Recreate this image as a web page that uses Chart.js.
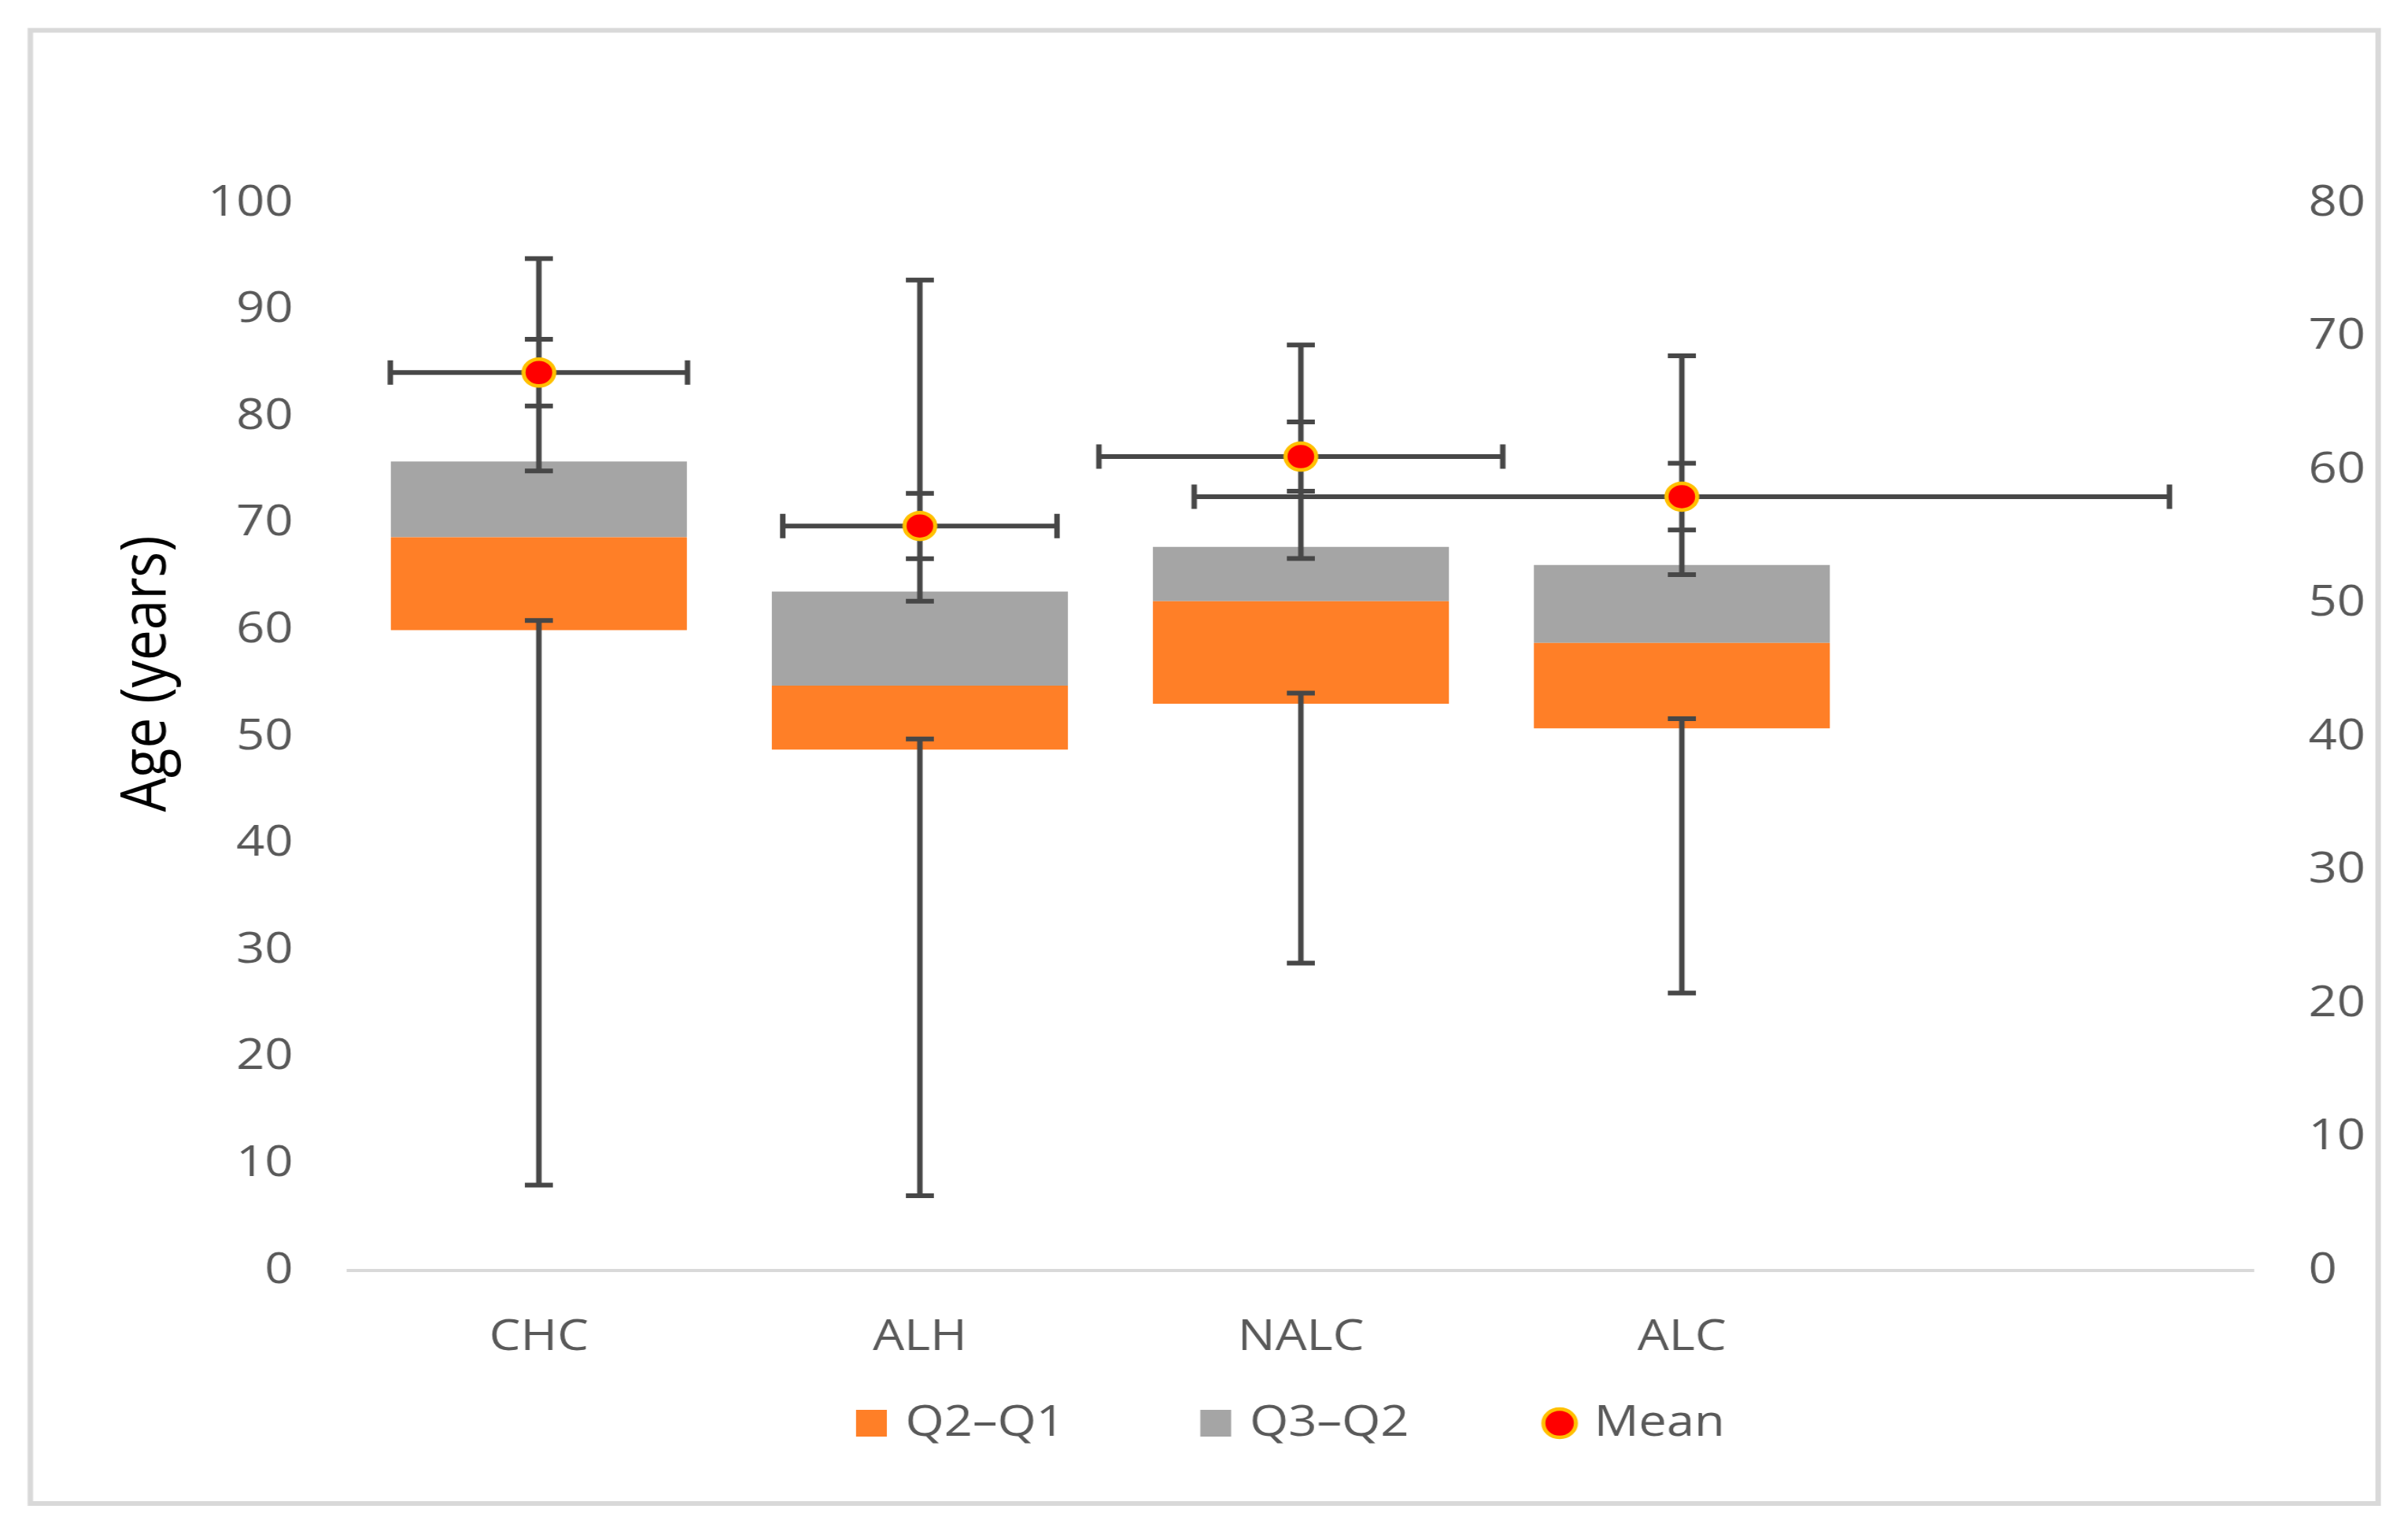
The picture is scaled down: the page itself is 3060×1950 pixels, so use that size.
<!DOCTYPE html>
<html>
<head>
<meta charset="utf-8">
<script src="https://cdn.jsdelivr.net/npm/chart.js@4.4.1/dist/chart.umd.min.js"></script>
<style>
html,body{margin:0;padding:0;background:#fff;overflow:hidden;width:3060px;height:1950px;}
#wrap{position:absolute;left:0;top:0;width:2661px;height:1950px;transform:scaleX(1.14995);transform-origin:0 0;}
canvas{display:block;}
</style>
</head>
<body>
<div id="wrap"><canvas id="c" width="2661" height="1950"></canvas></div>
<script>
// ---- data ----
const categories = ['CHC', 'ALH', 'NALC', 'ALC', ''];
const q1 = [60.0, 48.8, 53.1, 50.8];
const q2 = [68.7, 54.8, 62.7, 58.8];
const q3 = [75.8, 63.6, 67.8, 66.1];
const whiskerMin = [8.0, 7.0, 28.8, 26.0];
const whiskerMinCap = [60.9, 49.8, 54.1, 51.7];
const whiskerMaxStart = [74.9, 62.7, 66.7, 65.2];
const whiskerMax = [94.8, 92.8, 86.7, 85.7];
const meanAge = [67.3, 55.8, 61.0, 58.0];      // secondary (right) axis
const meanErrY = [2.5, 2.45, 2.6, 2.5];        // secondary axis units
const meanErrX = [0.39, 0.36, 0.53, 1.28];     // category units
const leftTicks = [0, 10, 20, 30, 40, 50, 60, 70, 80, 90, 100];
const rightTicks = [0, 10, 20, 30, 40, 50, 60, 70, 80];

const ORANGE = '#FF7F27';
const GRAY = '#A5A5A5';
const LINE = '#474747';
const TXT = '#595959';

// ---- legend icons (transparent lead-in gives the item spacing) ----
const ICON_W = 157;          // legend box width (pointStyleWidth)
const IMG_W = ICON_W + 40;   // image is centred on the box, 20px overhang each side
function makeIcon(kind, color) {
  const cv = document.createElement('canvas');
  cv.width = IMG_W; cv.height = 44;
  const g = cv.getContext('2d');
  if (kind === 'rect') {
    g.fillStyle = color;
    g.fillRect(20 + 130, 5, 34, 34);
  } else {
    g.beginPath(); g.arc(20 + 146.5, 22, 18, 0, Math.PI * 2);
    g.fillStyle = '#FF0000'; g.fill();
    g.lineWidth = 4.5; g.strokeStyle = '#FFC000'; g.stroke();
  }
  return cv;
}
const legendIcons = {
  'Q2\u2013Q1': makeIcon('rect', ORANGE),
  'Q3\u2013Q2': makeIcon('rect', GRAY),
  'Mean': makeIcon('circle')
};

const errorBars = {
  id: 'errorBars',
  beforeDatasetDraw(chart, args) {
    if (chart.data.datasets[args.index].label !== 'Mean') return;
    const ctx = chart.ctx;
    const x = chart.scales.x, y = chart.scales.y, y2 = chart.scales.y2;
    const cap = 15.5;
    ctx.save();
    ctx.strokeStyle = LINE;
    ctx.lineWidth = 6;
    ctx.lineCap = 'butt';
    const hl = (px, py) => { ctx.moveTo(px - cap, py); ctx.lineTo(px + cap, py); };
    const vl = (px, py) => { ctx.moveTo(px, py - cap); ctx.lineTo(px, py + cap); };
    ctx.beginPath();
    for (let i = 0; i < meanAge.length; i++) {
      const cx = x.getPixelForValue(i);
      const a = y.getPixelForValue(whiskerMin[i]);
      const b = y.getPixelForValue(whiskerMinCap[i]);
      ctx.moveTo(cx, a); ctx.lineTo(cx, b); hl(cx, a); hl(cx, b);
      const c = y.getPixelForValue(whiskerMaxStart[i]);
      const d = y.getPixelForValue(whiskerMax[i]);
      ctx.moveTo(cx, c); ctx.lineTo(cx, d); hl(cx, c); hl(cx, d);
      const my = y2.getPixelForValue(meanAge[i]);
      hl(cx, y2.getPixelForValue(meanAge[i] + meanErrY[i]));
      hl(cx, y2.getPixelForValue(meanAge[i] - meanErrY[i]));
      const xl = x.getPixelForValue(i - meanErrX[i]);
      const xr = x.getPixelForValue(i + meanErrX[i]);
      ctx.moveTo(xl, my); ctx.lineTo(xr, my); vl(xl, my); vl(xr, my);
    }
    ctx.stroke();
    ctx.restore();
  }
};

const decor = {
  id: 'decor',
  beforeDraw(chart) {
    const ctx = chart.ctx;
    ctx.save();
    ctx.fillStyle = '#fff';
    ctx.fillRect(0, 0, chart.width, chart.height);
    ctx.strokeStyle = '#D9D9D9';
    ctx.lineWidth = 6;
    ctx.strokeRect(33.5, 38.5, 2594.5, 1871.5);
    ctx.restore();
  },
  afterDraw(chart) {
    const ctx = chart.ctx, ca = chart.chartArea;
    ctx.save();
    ctx.translate(ca.left - 221.5, ca.top + 598);
    ctx.rotate(-Math.PI / 2);
    ctx.font = '69px "Open Sans"';
    ctx.fillStyle = '#000';
    ctx.textAlign = 'center';
    ctx.textBaseline = 'middle';
    ctx.fillText('Age (years)', 0, 0);
    ctx.restore();
  }
};

function build() {
  Chart.defaults.font.family = '"Open Sans", sans-serif';
  Chart.defaults.font.size = 55;
  Chart.defaults.color = TXT;

  new Chart(document.getElementById('c'), {
    type: 'bar',
    data: {
      labels: categories,
      datasets: [
        { label: 'Q1', data: q1, backgroundColor: 'rgba(0,0,0,0)', borderWidth: 0,
          barPercentage: 0.777, categoryPercentage: 1 },
        { label: 'Q2\u2013Q1', data: q2.map((v, i) => v - q1[i]), backgroundColor: ORANGE, borderWidth: 0,
          barPercentage: 0.777, categoryPercentage: 1 },
        { label: 'Q3\u2013Q2', data: q3.map((v, i) => v - q2[i]), backgroundColor: GRAY, borderWidth: 0,
          barPercentage: 0.777, categoryPercentage: 1 },
        { label: 'Mean', type: 'line', data: meanAge, yAxisID: 'y2', showLine: false, order: -1,
          pointRadius: 17, pointHoverRadius: 17, pointBackgroundColor: '#FF0000',
          pointBorderColor: '#FFC000', pointBorderWidth: 4.5, backgroundColor: '#FF0000', borderColor: '#FFC000' }
      ]
    },
    options: {
      responsive: false,
      animation: false,
      events: [],
      layout: { padding: { left: 70, right: 9, top: 258, bottom: 104.5 } },
      scales: {
        x: {
          stacked: true,
          grid: { display: false, drawTicks: false },
          border: { display: true, color: '#D9D9D9', width: 4 },
          ticks: { padding: 52, color: TXT, font: { size: 55 } },
          afterFit: s => { s.height = 146.5; }
        },
        y: {
          stacked: true, min: 0, max: 100, position: 'left',
          grid: { display: false, drawTicks: false },
          border: { display: false },
          ticks: { padding: 61, color: TXT, font: { size: 55 } },
          afterBuildTicks: s => { s.ticks = leftTicks.map(v => ({ value: v })); },
          afterFit: s => { s.width = 315; }
        },
        y2: {
          min: 0, max: 80, position: 'right',
          grid: { display: false, drawTicks: false },
          border: { display: false },
          ticks: { padding: 61, color: TXT, font: { size: 55 } },
          afterBuildTicks: s => { s.ticks = rightTicks.map(v => ({ value: v })); },
          afterFit: s => { s.width = 162; }
        }
      },
      plugins: {
        tooltip: { enabled: false },
        legend: {
          position: 'bottom',
          labels: {
            usePointStyle: true,
            pointStyleWidth: ICON_W,
            boxHeight: 34,
            padding: 20,
            color: TXT,
            font: { size: 55 },
            filter: item => item.text !== 'Q1',
            sort: (a, b) => a.datasetIndex - b.datasetIndex,
            generateLabels(chart) {
              const items = Chart.defaults.plugins.legend.labels.generateLabels(chart);
              items.forEach(it => {
                if (legendIcons[it.text]) it.pointStyle = legendIcons[it.text];
                it.lineWidth = 0;
              });
              return items;
            }
          }
        }
      }
    },
    plugins: [decor, errorBars]
  });
}

const fontsReady = document.fonts && document.fonts.load
  ? Promise.all([document.fonts.load('55px "Open Sans"'), document.fonts.load('69px "Open Sans"')]).catch(() => {})
  : Promise.resolve();
Promise.race([fontsReady, new Promise(r => setTimeout(r, 1500))]).then(build);
</script>
</body>
</html>
